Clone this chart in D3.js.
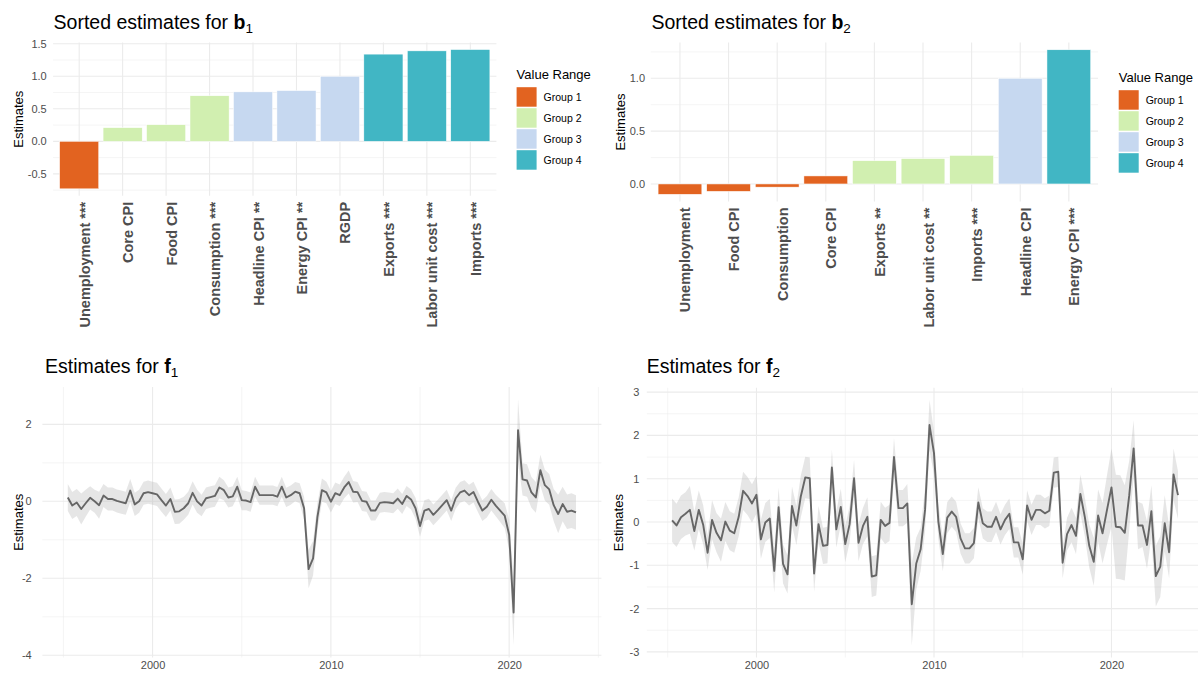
<!DOCTYPE html>
<html><head><meta charset="utf-8">
<script src="https://cdn.jsdelivr.net/npm/d3@7"></script>
<style>
body{margin:0;background:#fff}
svg{display:block;font-family:"Liberation Sans",Arial,sans-serif;background:#fff}
text{white-space:pre}
</style>
</head><body>
<svg id="c" width="1198" height="673"></svg>
<script>
// ---------------- DATA ----------------
const groupNames = ["Group 1","Group 2","Group 3","Group 4"];

const b1Labels = ["Unemployment ***","Core CPI","Food CPI","Consumption ***","Headline CPI **","Energy CPI **","RGDP","Exports ***","Labor unit cost ***","Imports ***"];
const b1Values = [-0.73,0.21,0.255,0.70,0.76,0.78,1.00,1.34,1.39,1.41];
const b1Groups = [1,2,2,2,3,3,3,4,4,4];
const b1Ticks = [-0.5,0,0.5,1,1.5];
const b1TickLabels = ["-0.5","0.0","0.5","1.0","1.5"];

const b2Labels = ["Unemployment","Food CPI","Consumption","Core CPI","Exports **","Labor unit cost **","Imports ***","Headline CPI","Energy CPI ***"];
const b2Values = [-0.098,-0.07,-0.03,0.076,0.22,0.24,0.27,1.00,1.27];
const b2Groups = [1,1,1,1,2,2,2,3,4];
const b2Ticks = [0,0.5,1];
const b2TickLabels = ["0.0","0.5","1.0"];

// quarterly estimates, 1995 Q2 .. 2023 Q4
const f1Values = [
 0.10,-0.11,-0.03,-0.20,-0.05,0.09,0.00,-0.10,0.15,0.06,
 0.06,0.01,-0.02,-0.05,0.28,-0.08,0.00,0.21,0.24,0.21,
 0.18,0.03,-0.11,0.06,-0.27,-0.26,-0.18,-0.05,0.22,0.00,
 -0.11,0.08,0.11,0.14,0.36,0.29,0.10,0.13,0.38,0.03,
 0.02,-0.02,0.38,0.16,0.16,0.16,0.16,0.12,0.38,0.10,
 0.16,0.25,0.21,-0.18,-1.76,-1.48,-0.40,0.29,0.23,-0.01,
 0.21,0.16,0.36,0.50,0.25,0.24,0.01,-0.01,-0.24,-0.24,
 -0.04,-0.02,-0.03,-0.05,0.07,-0.07,0.14,0.05,-0.18,-0.64,
 -0.24,-0.20,-0.35,-0.23,-0.10,0.03,-0.24,0.08,0.23,0.28,
 0.16,0.24,-0.01,-0.24,-0.14,0.04,-0.11,-0.24,-0.37,-0.87,
 -2.89,1.85,0.57,0.54,0.23,0.10,0.81,0.42,0.31,-0.10,
 -0.33,-0.07,-0.27,-0.24,-0.29];
const f1Half = [
 .35,.35,.35,.40,.35,.30,.30,.35,.30,.30,
 .30,.30,.30,.30,.30,.30,.30,.30,.30,.30,
 .30,.30,.30,.30,.32,.32,.30,.30,.30,.30,
 .28,.28,.28,.28,.28,.26,.26,.26,.26,.26,
 .25,.25,.26,.25,.25,.25,.25,.25,.26,.25,
 .25,.25,.26,.30,.50,.45,.35,.30,.28,.28,
 .28,.28,.28,.30,.28,.26,.26,.26,.26,.26,
 .26,.26,.26,.26,.26,.26,.26,.26,.27,.28,
 .27,.27,.27,.27,.27,.27,.27,.27,.27,.27,
 .27,.27,.27,.27,.28,.28,.28,.30,.32,.40,
 .85,.80,.42,.42,.40,.40,.40,.40,.40,.42,
 .50,.45,.45,.45,.45];
const f2Values = [
 0.04,-0.08,0.11,0.19,0.28,-0.21,0.28,-0.07,-0.71,0.05,
 -0.25,-0.42,0.01,-0.20,-0.26,0.12,0.72,0.60,0.43,0.63,
 -0.40,-0.01,0.08,-1.13,0.34,-0.97,-1.21,0.37,-0.08,0.59,
 1.03,1.01,-1.19,-0.05,-0.55,-0.53,1.26,-0.17,0.35,-0.51,
 -0.05,1.01,-0.48,-0.09,0.12,-1.26,-1.23,0.05,-0.09,-0.02,
 1.50,0.32,0.32,0.43,-1.90,-0.96,-0.63,0.28,2.24,1.59,
 0.01,-0.74,0.10,0.24,0.12,-0.38,-0.61,-0.61,-0.49,0.45,
 -0.03,-0.11,-0.11,0.12,-0.17,0.05,0.19,-0.47,-0.47,-0.86,
 0.38,0.05,0.28,0.28,0.20,0.26,1.14,1.16,-0.94,-0.28,
 -0.07,-0.32,0.65,0.12,-0.55,-0.92,0.15,-0.26,0.28,0.80,
 -0.11,-0.12,-0.25,0.62,1.70,-0.08,-0.08,-0.53,0.25,-1.25,
 -1.03,-0.03,-0.70,1.10,0.62];
const f2Half = [
 .50,.50,.50,.50,.55,.45,.45,.45,.40,.45,
 .45,.50,.45,.45,.45,.45,.44,.44,.44,.44,
 .45,.45,.45,.50,.45,.45,.44,.45,.45,.48,
 .48,.48,.42,.42,.42,.42,.41,.42,.42,.42,
 .42,.42,.42,.42,.45,.47,.47,.42,.42,.42,
 .44,.42,.42,.45,.95,.60,.50,.50,.58,.50,
 .40,.40,.36,.35,.35,.35,.35,.35,.35,.35,
 .35,.35,.35,.35,.35,.35,.35,.35,.35,.36,
 .35,.35,.35,.35,.35,.35,.35,.35,.36,.38,
 .40,.42,.45,.45,.50,.55,.60,.70,.80,.90,
 1.20,1.20,1.10,.80,.65,.55,.50,.55,.60,.70,
 .70,.65,.60,.60,.55];
const f1Ticks = [-4,-2,0,2];
const f2Ticks = [-3,-2,-1,0,1,2,3];
const yearTicks = [2000,2010,2020];

// ---------------- STYLE ----------------
const groupColors = ["#e26320","#d1efb0","#c6d8f0","#41b6c4"];
const gridCol = "#ebebeb";
const tickCol = "#4d4d4d";
const svg = d3.select("#c");

function title(x, y, pre, bold, sub) {
  const t = svg.append("text").attr("x", x).attr("y", y).attr("font-size", 19.5).attr("fill", "#000");
  t.append("tspan").text(pre);
  t.append("tspan").attr("font-weight", "bold").text(bold);
  t.append("tspan").attr("font-size", 13.5).attr("dy", 4).text(sub);
}
function yTitle(x, y) {
  svg.append("text").attr("transform", `translate(${x},${y}) rotate(-90)`)
    .attr("text-anchor", "middle").attr("font-size", 13).attr("fill", "#000").text("Estimates");
}
function hGrid(g, vals, x0, x1, y, w) {
  g.selectAll(null).data(vals).join("line")
    .attr("x1", x0).attr("x2", x1).attr("y1", d => y(d)).attr("y2", d => y(d))
    .attr("stroke", gridCol).attr("stroke-width", w);
}
function vGrid(g, vals, y0, y1, x, w) {
  g.selectAll(null).data(vals).join("line")
    .attr("y1", y0).attr("y2", y1).attr("x1", d => x(d)).attr("x2", d => x(d))
    .attr("stroke", gridCol).attr("stroke-width", w);
}
function styleAxis(ax, size) {
  ax.select(".domain").remove();
  ax.selectAll(".tick line").remove();
  ax.attr("font-family", null).attr("font-size", size);
  ax.selectAll("text").attr("fill", tickCol);
}

function barPanel(o) {
  const x = d3.scalePoint().domain(o.labels).range([o.left, o.right]).padding(0.6);
  const y = d3.scaleLinear().domain(o.domain).range([o.bottom, o.top]);
  const g = svg.append("g");
  const minor = o.ticks.slice(0, -1).map((d, i) => (d + o.ticks[i + 1]) / 2)
    .concat([o.ticks[0] - 0.25, o.ticks[o.ticks.length - 1] + 0.25])
    .filter(d => d >= o.domain[0] && d <= o.domain[1]);
  hGrid(g, minor, o.left, o.right, y, 0.55);
  hGrid(g, o.ticks, o.left, o.right, y, 1.1);
  vGrid(g, o.labels, o.top, o.bottom, x, 1.1);
  const bw = x.step() * 0.9;
  g.selectAll(null).data(o.values).join("rect")
    .attr("x", (d, i) => x(o.labels[i]) - bw / 2)
    .attr("width", bw)
    .attr("y", d => y(Math.max(0, d)))
    .attr("height", d => Math.abs(y(d) - y(0)))
    .attr("fill", (d, i) => groupColors[o.groups[i] - 1])
    .attr("stroke", "#fff").attr("stroke-width", 0.5);
  const ay = svg.append("g").attr("transform", `translate(${o.yLabX},0)`)
    .call(d3.axisLeft(y).tickValues(o.ticks).tickFormat((d, i) => o.tickLabels[i]).tickSize(0).tickPadding(0));
  styleAxis(ay, 11);
  const ax = svg.append("g").attr("transform", `translate(0,${o.bottom})`)
    .call(d3.axisBottom(x).tickSize(0));
  styleAxis(ax, 14.5);
  ax.selectAll("text").attr("transform", "rotate(-90)").attr("text-anchor", "end")
    .attr("x", -6).attr("y", 10).attr("dy", 0).attr("font-weight", "bold");
  yTitle(o.yTitleX, (o.top + o.bottom) / 2);
  // legend
  const lg = svg.append("g").attr("transform", `translate(${o.legX},0)`);
  lg.append("text").attr("x", 0).attr("y", o.legY).attr("font-size", 13).attr("fill", "#000").text("Value Range");
  lg.selectAll(null).data(groupNames).join("rect")
    .attr("x", 0).attr("y", (d, i) => o.legY + 8.7 + i * 21).attr("width", 20).attr("height", 19.5)
    .attr("fill", (d, i) => groupColors[i]);
  lg.selectAll(null).data(groupNames).join("text")
    .attr("x", 27).attr("y", (d, i) => o.legY + 8.7 + i * 21 + 9.75).attr("dy", "0.35em")
    .attr("font-size", 10.5).attr("fill", "#000").text(d => d);
}

barPanel({labels: b1Labels, values: b1Values, groups: b1Groups, ticks: b1Ticks, tickLabels: b1TickLabels,
  left: 53.1, right: 496.4, top: 42.6, bottom: 195.8, domain: [-0.837, 1.517],
  yLabX: 46.7, yTitleX: 22.5, legX: 516.6, legY: 78.5});
barPanel({labels: b2Labels, values: b2Values, groups: b2Groups, ticks: b2Ticks, tickLabels: b2TickLabels,
  left: 650.8, right: 1098, top: 42.6, bottom: 201.5, domain: [-0.166, 1.338],
  yLabX: 645, yTitleX: 625, legX: 1118.7, legY: 81.5});
title(53.6, 29, "Sorted estimates for ", "b", "1");
title(651.5, 29, "Sorted estimates for ", "b", "2");

// time series
const quarters = d3.timeMonth.every(3).range(new Date(1995, 3, 1), new Date(2024, 0, 1));
function tsPanel(o) {
  const ext = d3.extent(quarters);
  const span = ext[1] - ext[0];
  const x = d3.scaleTime().domain([new Date(+ext[0] - 0.05 * span), new Date(+ext[1] + 0.05 * span)]).range([o.left, o.right]);
  const y = d3.scaleLinear().domain(o.domain).range([o.bottom, o.top]);
  const g = svg.append("g");
  const minorY = [];
  for (let i = 0; i < o.ticks.length - 1; i++) minorY.push((o.ticks[i] + o.ticks[i + 1]) / 2);
  hGrid(g, minorY, o.left, o.right, y, 0.55);
  hGrid(g, o.ticks, o.left, o.right, y, 1.1);
  const yrs = yearTicks.map(v => new Date(v, 0, 1));
  const minorX = [yearTicks[0] - 5].concat(yearTicks.map(v => v + 5)).map(v => new Date(v, 0, 1));
  vGrid(g, minorX, o.top, o.bottom, x, 0.55);
  vGrid(g, yrs, o.top, o.bottom, x, 1.1);
  const data = quarters.map((d, i) => ({date: d, v: o.values[i], h: o.half[i]}));
  g.append("path").datum(data)
    .attr("d", d3.area().x(d => x(d.date)).y0(d => y(d.v - d.h)).y1(d => y(d.v + d.h)))
    .attr("fill", "#b3b3b3").attr("fill-opacity", 0.33);
  g.append("path").datum(data)
    .attr("d", d3.line().x(d => x(d.date)).y(d => y(d.v)))
    .attr("fill", "none").attr("stroke", "#666").attr("stroke-width", 1.9).attr("stroke-linejoin", "round");
  const ay = svg.append("g").attr("transform", `translate(${o.yLabX},0)`)
    .call(d3.axisLeft(y).tickValues(o.ticks).tickFormat(d => String(d)).tickSize(0).tickPadding(0));
  styleAxis(ay, 11);
  const ax = svg.append("g").attr("transform", `translate(0,${o.bottom})`)
    .call(d3.axisBottom(x).tickValues(yrs).tickFormat(d3.timeFormat("%Y")).tickSize(0).tickPadding(4));
  styleAxis(ax, 11);
  yTitle(o.yTitleX, (o.top + o.bottom) / 2);
}
tsPanel({values: f1Values, half: f1Half, ticks: f1Ticks, left: 42.4, right: 601.4, top: 387, bottom: 657.6,
  domain: [-4.06, 2.97], yLabX: 31.7, yTitleX: 23});
tsPanel({values: f2Values, half: f2Half, ticks: f2Ticks, left: 646.8, right: 1203.3, top: 387.8, bottom: 657.5,
  domain: [-3.13, 3.1], yLabX: 639.3, yTitleX: 623.3});
title(45, 373, "Estimates for ", "f", "1");
title(646.7, 372.7, "Estimates for ", "f", "2");
</script>
</body></html>
